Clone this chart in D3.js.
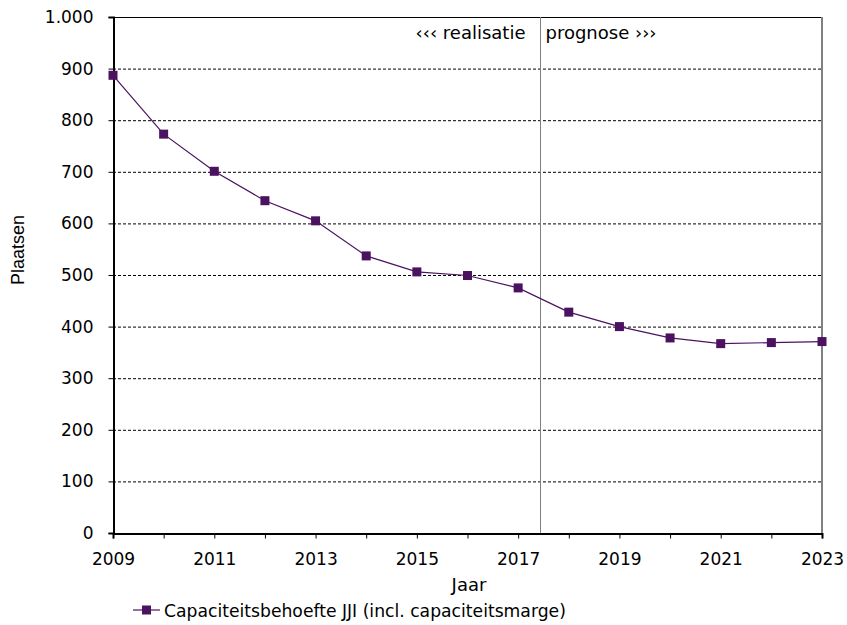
<!DOCTYPE html>
<html lang="nl">
<head>
<meta charset="utf-8">
<title>Capaciteitsbehoefte JJI</title>
<script src="https://d3js.org/d3.v7.min.js"></script>
<style>
  body { margin: 0; background: #fff; }
  text { font-family: "DejaVu Sans", Verdana, sans-serif; fill: #000; }
  .grid line { stroke: #000; stroke-width: 1px; stroke-dasharray: 3,2; }
</style>
</head>
<body>
<svg width="847" height="625"></svg>
<script>
var years = [2009, 2010, 2011, 2012, 2013, 2014, 2015, 2016, 2017, 2018, 2019, 2020, 2021, 2022, 2023];
var plaatsen = [887, 773, 701, 644, 605, 537, 506, 499, 475, 428, 400, 378, 367, 369, 371];
var yTicks = [0, 100, 200, 300, 400, 500, 600, 700, 800, 900, 1000];
var xLabels = [2009, 2011, 2013, 2015, 2017, 2019, 2021, 2023];
var splitYear = 2017.43;
var seriesName = "Capaciteitsbehoefte JJI (incl. capaciteitsmarge)";
var purple = "#4b1260";

var svg = d3.select("svg");
var plotL = 113, plotR = 822, plotT = 17, plotB = 533;

var x = d3.scaleLinear().domain([2009, 2023]).range([plotL, plotR]);
var y = d3.scaleLinear().domain([0, 1000]).range([plotB, plotT]);

// dashed gridlines
svg.append("g").attr("class", "grid")
  .selectAll("line")
  .data(yTicks.filter(function(d) { return d > 0 && d < 1000; }))
  .enter().append("line")
  .attr("x1", plotL).attr("x2", plotR)
  .attr("y1", function(d) { return y(d) + 0.5; })
  .attr("y2", function(d) { return y(d) + 0.5; });

// top border and right border
svg.append("line").attr("x1", plotL).attr("x2", plotR)
  .attr("y1", plotT + 0.5).attr("y2", plotT + 0.5)
  .attr("stroke", "#000");
svg.append("line").attr("x1", plotR).attr("x2", plotR)
  .attr("y1", plotT).attr("y2", plotB)
  .attr("stroke", "#808080").attr("stroke-width", 2);

// split line realisatie / prognose
var sx = Math.round(x(splitYear)) + 0.5;
svg.append("line")
  .attr("x1", sx).attr("x2", sx)
  .attr("y1", plotT).attr("y2", plotB)
  .attr("stroke", "#808080").attr("stroke-width", 1);

svg.append("text").attr("x", sx - 15).attr("y", 39)
  .attr("text-anchor", "end").style("font-size", "18px")
  .text("\u2039\u2039\u2039 realisatie");
svg.append("text").attr("x", sx + 5).attr("y", 39)
  .attr("text-anchor", "start").style("font-size", "18px")
  .text("prognose \u203a\u203a\u203a");

// y axis
var yAxis = svg.append("g")
  .attr("transform", "translate(" + (plotL + 0.5) + ",0)")
  .call(d3.axisLeft(y).tickValues(yTicks).tickSize(5).tickPadding(15)
    .tickFormat(function(d) { return d3.format(",")(d).replace(",", "."); }));
yAxis.select(".domain").attr("stroke", "#000").attr("stroke-width", 2);
yAxis.selectAll("text").style("font-size", "17px");

// x axis
var xAxis = svg.append("g")
  .attr("transform", "translate(0," + (plotB + 0.5) + ")")
  .call(d3.axisBottom(x).tickValues(years).tickSize(5).tickPadding(14)
    .tickFormat(function(d) { return xLabels.indexOf(d) >= 0 ? d : ""; }));
xAxis.select(".domain").attr("stroke", "#000").attr("stroke-width", 2);
xAxis.selectAll("text").style("font-size", "17px");

// axis titles
svg.append("text").attr("x", 469).attr("y", 591)
  .attr("text-anchor", "middle").style("font-size", "18px").text("Jaar");
svg.append("text")
  .attr("transform", "translate(24,250) rotate(-90)")
  .attr("text-anchor", "middle")
  .style("font-family", "'Liberation Sans', Arial, sans-serif")
  .style("font-size", "18px").text("Plaatsen");

// series
var line = d3.line()
  .x(function(d, i) { return x(years[i]); })
  .y(function(d) { return y(d); });

svg.append("path").datum(plaatsen)
  .attr("fill", "none").attr("stroke", purple).attr("stroke-width", 1.2)
  .attr("d", line);

svg.append("g").selectAll("rect")
  .data(plaatsen)
  .enter().append("rect")
  .attr("x", function(d, i) { return x(years[i]) - 4.5; })
  .attr("y", function(d) { return y(d) - 4.5; })
  .attr("width", 9).attr("height", 9)
  .attr("fill", purple);

// legend
var lg = svg.append("g").attr("transform", "translate(133,610)");
lg.append("line").attr("x1", 0).attr("x2", 27).attr("y1", 0).attr("y2", 0)
  .attr("stroke", purple).attr("stroke-width", 1.2);
lg.append("rect").attr("x", 9).attr("y", -4.5).attr("width", 9).attr("height", 9)
  .attr("fill", purple);
lg.append("text").attr("x", 31).attr("y", 6.5).style("font-size", "17.2px")
  .text(seriesName);
</script>
</body>
</html>
